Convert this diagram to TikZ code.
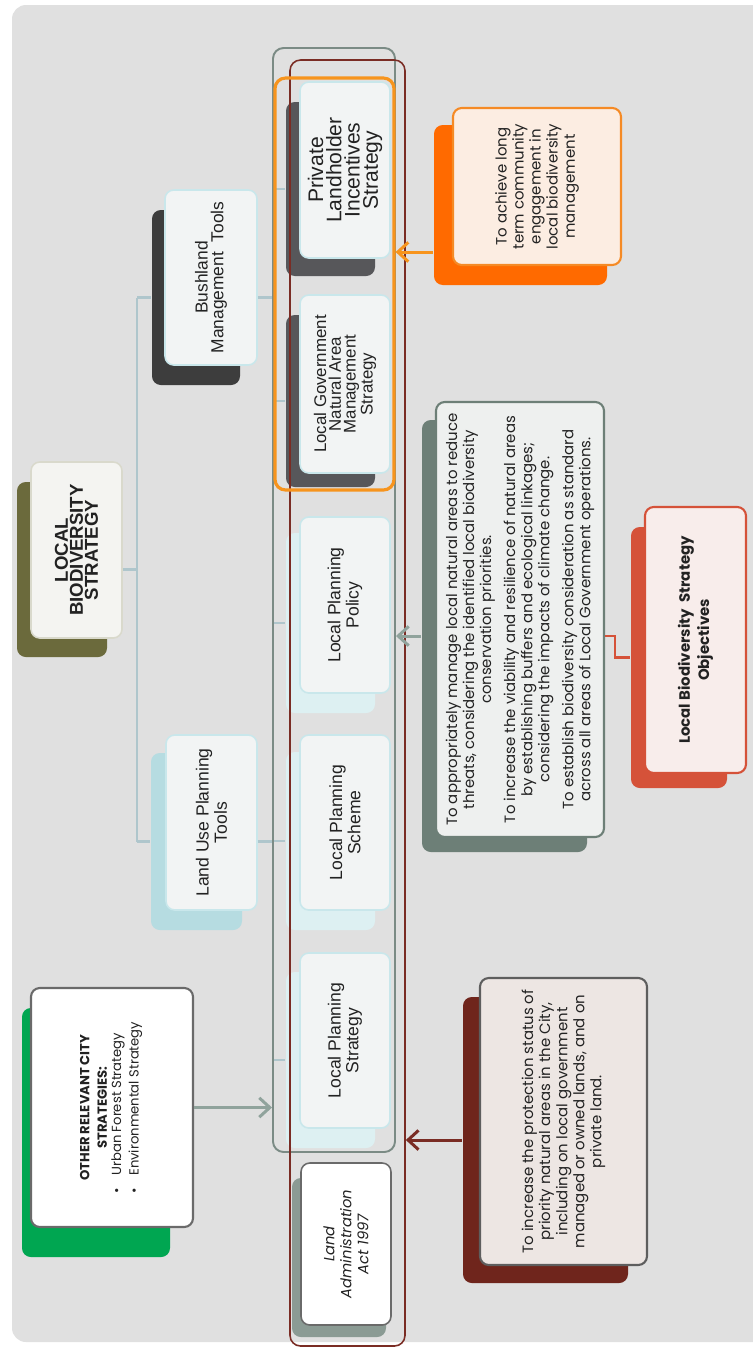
\documentclass[tikz,border=0pt]{standalone}
\usepackage{fontspec}
\usetikzlibrary{arrows.meta,calc}

\newfontfamily\arialf{Liberation Sans}
\newfontfamily\gothic{Poppins}

\definecolor{bgC}{HTML}{E0E0E0}
\definecolor{txt}{HTML}{222222}
\definecolor{oliveC}{HTML}{6B6A3C}
\definecolor{darkA}{HTML}{3D3D3D}
\definecolor{darkB}{HTML}{57575A}
\definecolor{tealA}{HTML}{B6DCE1}
\definecolor{tealB}{HTML}{DDF0F2}
\definecolor{edgeT}{HTML}{C9E7EB}
\definecolor{fillT}{HTML}{F2F4F4}
\definecolor{rootEdge}{HTML}{D9D9CC}
\definecolor{rootFill}{HTML}{F4F4F1}
\definecolor{grayO}{HTML}{7B8B85}
\definecolor{redO}{HTML}{7A2C24}
\definecolor{orO}{HTML}{F7941D}
\definecolor{orBack}{HTML}{FF6A00}
\definecolor{orEdge}{HTML}{F58A25}
\definecolor{orFill}{HTML}{FCEDE2}
\definecolor{ggBack}{HTML}{6D7F77}
\definecolor{ggFill}{HTML}{EEF0EF}
\definecolor{rdBack}{HTML}{D55239}
\definecolor{rdFill}{HTML}{F8EDEB}
\definecolor{brBack}{HTML}{6F251C}
\definecolor{brEdge}{HTML}{5E5E5E}
\definecolor{brFill}{HTML}{EDE6E3}
\definecolor{gnBack}{HTML}{00A651}
\definecolor{gnEdge}{HTML}{6A6A6A}
\definecolor{laBack}{HTML}{8B9B94}
\definecolor{connC}{HTML}{AFC6CC}
\definecolor{arrG}{HTML}{90A39C}

\tikzset{
    card/.style={rectangle, rounded corners=5pt, inner sep=0pt, line width=0.9pt},
    dims/.style 2 args={minimum width=#1*0.02cm, minimum height=#2*0.02cm},
    rdims/.style 2 args={minimum width=#2*0.02cm, minimum height=#1*0.02cm},
    backcard/.style={card, fill=#1},
    frontcard/.style={card, rotate=90, align=center, draw=#1, fill=fillT, text=txt},
    bandbox/.style={rectangle, rounded corners=6pt, inner sep=0pt},
    conn/.style={draw=connC, line width=1.2pt},
    arr/.style={line width=1.7pt, -{Straight Barb[length=6pt, width=11pt]}}
}

\begin{document}
\begin{tikzpicture}[x=0.02cm, y=-0.02cm]
    % Fondo
    \useasboundingbox (0,0) rectangle (752,1350);
    \fill[white] (0,0) rectangle (752,1350);
    \fill[bgC, rounded corners=8pt] (12,5) rectangle (770,1342);

    % Raiz y segundo nivel
    \node[backcard=oliveC, dims={90}{175}] (rootb) at (62,569.5) {};
    \node[frontcard=rootEdge, fill=rootFill, rdims={91}{176}, font=\arialf\bfseries\fontsize{10.6}{8.5}\selectfont] (rootf) at (76.5,550) {LOCAL\\BIODIVERSITY\\STRATEGY};
    \node[backcard=darkA, dims={88}{175}] (bushb) at (196,297.5) {};
    \node[frontcard=edgeT, rdims={92}{175}, font=\arialf\fontsize{9.9}{9.1}\selectfont] (bushf) at (211,277.5) {Bushland\\Management\ \ Tools};
    \node[backcard=tealA, dims={91}{177}] (landb) at (196.5,841.5) {};
    \node[frontcard=edgeT, rdims={91}{175}, font=\arialf\fontsize{10}{8.5}\selectfont] (landf) at (211.5,822.5) {Land Use Planning\\Tools};

    % Tercer nivel
    \node[backcard=darkB, dims={89}{174}] (privb) at (330.5,189) {};
    \node[frontcard=edgeT, rdims={90}{176}, font=\arialf\fontsize{12}{10.4}\selectfont] (privf) at (345,170) {Private\\Landholder\\Incentives\\Strategy};
    \node[backcard=darkB, dims={89}{172}] (govb) at (330.5,401) {};
    \node[frontcard=edgeT, rdims={90}{178}, font=\arialf\fontsize{9.6}{8.4}\selectfont] (govf) at (345,384) {Local Government\\Natural Area\\Management\\Strategy};
    \node[backcard=tealB, dims={89}{180}] (polb) at (330.5,623) {};
    \node[frontcard=edgeT, rdims={90}{176}, font=\arialf\fontsize{10}{8.6}\selectfont] (polf) at (345,605) {Local Planning\\Policy};
    \node[backcard=tealB, dims={89}{178}] (schb) at (330.5,841) {};
    \node[frontcard=edgeT, rdims={90}{175}, font=\arialf\fontsize{10}{8.6}\selectfont] (schf) at (345,822.5) {Local Planning\\Scheme};
    \node[backcard=tealB, dims={89}{176}] (strb) at (330.5,1060) {};
    \node[frontcard=edgeT, rdims={90}{175}, font=\arialf\fontsize{10}{8.6}\selectfont] (strf) at (345,1040.5) {Local Planning\\Strategy};
    \node[backcard=laBack, dims={94}{159}] (actb) at (339,1257.5) {};
    \node[frontcard=gnEdge, fill=white, rdims={90}{162}, font=\gothic\itshape\fontsize{8.4}{9.7}\selectfont] (actf) at (346,1244) {Land\\Administration\\Act 1997};

    % Objetivos
    \node[backcard=orBack, dims={173}{160}] (orb) at (520.5,205) {};
    \node[frontcard=orEdge, fill=orFill, line width=1.2pt, rdims={168}{157}, font=\gothic\fontsize{8.5}{9.7}\selectfont] (orf) at (537,186.5) {To achieve long\\term community\\engagement in\\local biodiversity\\management};
    \node[backcard=ggBack, dims={165}{432}] (objb) at (504.5,636) {};
    \node[frontcard=ggBack, fill=ggFill, line width=1.2pt, rdims={168}{435}, font=\gothic\fontsize{8.5}{9.7}\selectfont] (objf) at (520,619.5) {To appropriately manage local natural areas to reduce\\threats, considering the identified local biodiversity\\conservation priorities.\\[4pt]To increase the viability and resilience of natural areas\\by establishing buffers and ecological linkages;\\considering the impacts of climate change.\\[4pt]To establish biodiversity consideration as standard\\across all areas of Local Government operations.};
    \node[backcard=rdBack, dims={96}{261}] (redb) at (679,657.5) {};
    \node[frontcard=rdBack, fill=rdFill, line width=1.2pt, rdims={101}{266}, font=\gothic\bfseries\fontsize{8.5}{11}\selectfont] (redf) at (695.5,640) {Local Biodiversity\ \ Strategy\\Objectives};
    \node[backcard=brBack, dims={165}{286}] (brb) at (545.5,1140) {};
    \node[frontcard=brEdge, fill=brFill, line width=1.2pt, rdims={167}{287}, font=\gothic\fontsize{8.5}{9.7}\selectfont] (brf) at (563.5,1121.5) {To increase the protection status of\\priority natural areas in the City,\\including on local government\\managed or owned lands, and on\\private land.};
    \node[backcard=gnBack, dims={148}{249}] (grb) at (96,1132.5) {};
    \node[frontcard=gnEdge, fill=white, line width=1.2pt, rdims={162}{239}, font=\gothic\fontsize{7.5}{10}\selectfont] (grf) at (112,1107.5) {\textbf{OTHER RELEVANT CITY}\\\textbf{STRATEGIES:}\\\begin{tabular}{@{}l@{\hspace{7pt}}l@{}}\textbullet & Urban Forest Strategy\\\textbullet & Environmental Strategy\end{tabular}};

    % Conectores del organigrama
    \coordinate (sp1) at (137,297.5);
    \coordinate (sp2) at (137,841.5);
    \coordinate (bus) at (273,0);
    \draw[conn] (sp1) -- (sp2);
    \draw[conn] (rootb.center -| rootf.south) -- (rootb.center -| sp1);
    \draw[conn] (sp1) -- (bushb.west);
    \draw[conn] (sp2) -- (landb.west);
    \draw[conn] (bushb.center -| bushf.south) -- (bushb.center -| bus);
    \draw[conn] (privb.west -| bus) -- (govb.west -| bus);
    \draw[conn] (privb.west -| bus) -- (privb.west);
    \draw[conn] (govb.west -| bus) -- (govb.west);
    \draw[conn] (landb.center -| landf.south) -- (landb.center -| bus);
    \draw[conn] (polb.west -| bus) -- (strb.west -| bus);
    \draw[conn] (polb.west -| bus) -- (polb.west);
    \draw[conn] (schb.west -| bus) -- (schb.west);
    \draw[conn] (strb.west -| bus) -- (strb.west);

    % Marcos de agrupacion
    \node[bandbox, draw=grayO, line width=1.1pt, dims={122}{1104}] (gbox) at (334,600) {};
    \node[bandbox, draw=redO, line width=0.9pt, dims={115}{1286}] (redbox) at (347.5,703) {};
    \node[bandbox, draw=orO, line width=1.8pt, dims={119}{412}] (orbox) at (334.5,284) {};

    % Flechas
    \coordinate (oa) at ($(orb.west)+(0,47)$);
    \draw[arr, draw=orO] (oa) -- (oa -| orbox.east);
    \draw[arr, draw=arrG] (objb.west) -- (objb.west -| gbox.east);
    \draw[arr, draw=redO] (brb.west) -- (brb.west -| redbox.east);
    \draw[arr, draw=arrG] (grf.south) -- (grf.south -| gbox.west);
    \draw[draw=rdBack, line width=1.5pt] (objb.center -| objf.south) -- ++(10,0) |- (redb.west);
\end{tikzpicture}
\end{document}
